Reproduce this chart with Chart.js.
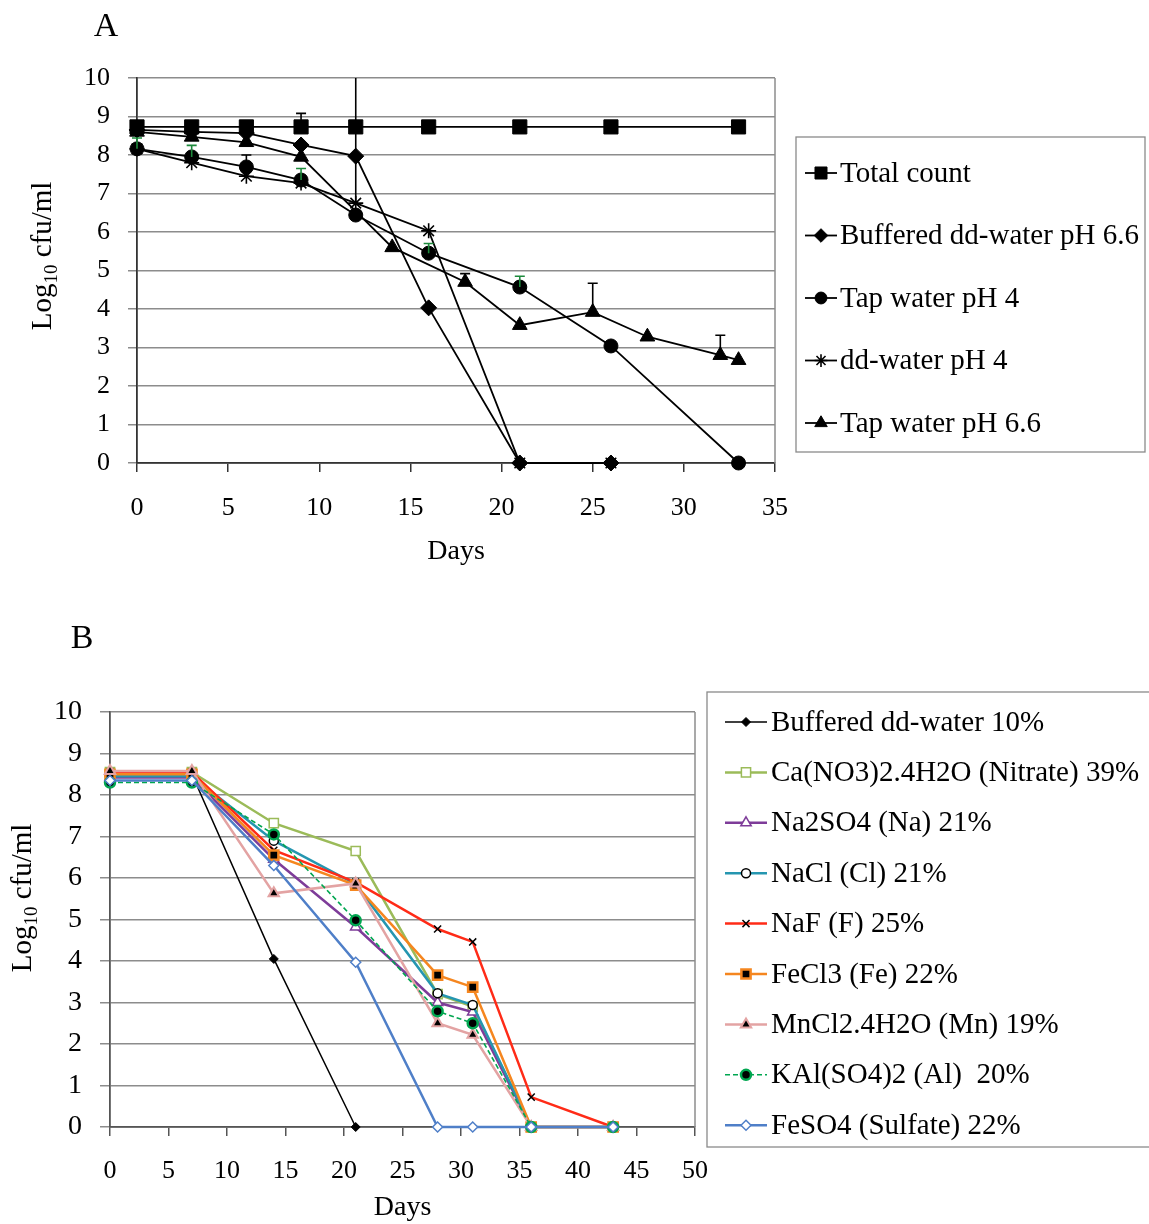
<!DOCTYPE html>
<html><head><meta charset="utf-8">
<script src="https://cdn.jsdelivr.net/npm/chart.js@4/dist/chart.umd.min.js"></script>
<style>
html,body{margin:0;padding:0;background:#fff;}
#wrap{position:relative;width:1149px;height:1224px;overflow:hidden;}
#ca{position:absolute;left:0;top:0;}
#cb{position:absolute;left:0;top:590px;}
</style></head><body>
<div id="wrap"><canvas id="ca" width="1149" height="590"></canvas><canvas id="cb" width="1149" height="634"></canvas></div>
<script>
const FONT = '"Liberation Serif","Times New Roman",serif';

// ---------- Panel A data ----------
const aTicksX = [0, 5, 10, 15, 20, 25, 30, 35];
const aTotalLabel = 'Total count';
const aTotalDays = [0, 3, 6, 9, 12, 16, 21, 26, 33];
const aTotalVals = [8.73, 8.73, 8.73, 8.73, 8.73, 8.73, 8.73, 8.73, 8.73];
const aTotalErr  = [null, null, null, 0.35, null, null, null, null, null];

const aBufLabel = 'Buffered dd-water pH 6.6';
const aBufDays = [0, 3, 6, 9, 12, 16, 21, 26];
const aBufVals = [8.65, 8.6, 8.57, 8.26, 7.97, 4.03, 0, 0];

const aTap4Label = 'Tap water pH 4';
const aTap4Days = [0, 3, 6, 9, 12, 16, 21, 26, 33];
const aTap4Vals = [8.16, 7.95, 7.69, 7.35, 6.44, 5.45, 4.57, 3.04, 0];
const aTap4Err  = [0.28, 0.3, null, 0.3, null, 0.25, 0.28, null, null];

const aDd4Label = 'dd-water pH 4';
const aDd4Days = [0, 3, 6, 9, 12, 16, 21, 26];
const aDd4Vals = [8.16, 7.8, 7.45, 7.27, 6.75, 6.03, 0, 0];
const aDd4Err  = [null, null, 0.55, null, 3.5, null, null, null];

const aTap66Label = 'Tap water pH 6.6';
const aTap66Days = [0, 3, 6, 9, 14, 18, 21, 25, 28, 32, 33];
const aTap66Vals = [8.6, 8.47, 8.33, 7.95, 5.6, 4.7, 3.58, 3.92, 3.28, 2.8, 2.67];
const aTap66Err  = [null, null, null, null, null, 0.22, null, 0.75, null, 0.52, null];

// ---------- Panel B data ----------
const bDays = [0, 7, 14, 21, 28, 31, 36, 43];
const bLabels = ['Buffered dd-water 10%', 'Ca(NO3)2.4H2O (Nitrate) 39%', 'Na2SO4 (Na) 21%', 'NaCl (Cl) 21%',
  'NaF (F) 25%', 'FeCl3 (Fe) 22%', 'MnCl2.4H2O (Mn) 19%', 'KAl(SO4)2 (Al)  20%', 'FeSO4 (Sulfate) 22%'];
const bBuffered = [8.5, 8.5, 4.05, 0, null, null, null, null];
const bNitrate  = [8.55, 8.55, 7.32, 6.65, 3.2, 2.9, 0, 0];
const bNa       = [8.42, 8.42, 6.45, 4.82, 3.0, 2.77, 0, 0];
const bCl       = [8.45, 8.45, 6.9, 5.85, 3.22, 2.94, 0, 0];
const bF        = [8.55, 8.55, 6.67, 5.9, 4.77, 4.46, 0.72, 0];
const bFe       = [8.5, 8.5, 6.55, 5.83, 3.66, 3.37, 0, 0];
const bMn       = [8.58, 8.58, 5.63, 5.87, 2.5, 2.22, 0, 0];
const bAl       = [8.3, 8.3, 7.05, 4.98, 2.79, 2.5, 0, 0];
const bSulfate  = [8.35, 8.35, 6.3, 3.97, 0, 0, 0, 0];

function pts(days, vals) {
  const out = [];
  for (let i = 0; i < days.length; i++) if (vals[i] != null) out.push({x: days[i], y: vals[i]});
  return out;
}
function errs(days, vals, e) {
  const out = [];
  for (let i = 0; i < days.length; i++) if (vals[i] != null) out.push(e ? e[i] : null);
  return out;
}

function drawYTitle(ctx, bx, cy, size) {
  ctx.save();
  ctx.translate(bx, cy);
  ctx.rotate(-Math.PI / 2);
  const f1 = size + 'px ' + FONT, f2 = Math.round(size * 0.66) + 'px ' + FONT;
  ctx.font = f1; const w1 = ctx.measureText('Log').width; const w3 = ctx.measureText(' cfu/ml').width;
  ctx.font = f2; const w2 = ctx.measureText('10').width;
  let x = -(w1 + w2 + w3) / 2;
  ctx.fillStyle = '#000'; ctx.textAlign = 'left'; ctx.textBaseline = 'alphabetic';
  ctx.font = f1; ctx.fillText('Log', x, 0); x += w1;
  ctx.font = f2; ctx.fillText('10', x, size * 0.22); x += w2;
  ctx.font = f1; ctx.fillText(' cfu/ml', x, 0);
  ctx.restore();
}

function decor(cfg) {
  return {
    id: 'decor' + cfg.name,
    afterDatasetsDraw(chart) {
      const ctx = chart.ctx, xs = chart.scales.x, ys = chart.scales.y;
      chart.data.datasets.forEach((ds) => {
        if (!ds.errUp) return;
        ds.data.forEach((p, j) => {
          const e = ds.errUp[j]; if (e == null) return;
          const px = xs.getPixelForValue(p.x);
          const y0 = ys.getPixelForValue(p.y);
          const topV = p.y + e;
          const y1 = ys.getPixelForValue(Math.min(topV, ys.max));
          ctx.save();
          ctx.strokeStyle = ds.errColor || '#000'; ctx.lineWidth = 1.6;
          ctx.beginPath(); ctx.moveTo(px, y0); ctx.lineTo(px, y1);
          if (topV <= ys.max) { ctx.moveTo(px - 5, y1); ctx.lineTo(px + 5, y1); }
          ctx.stroke();
          ctx.restore();
        });
      });
    },
    afterDraw(chart) {
      const ctx = chart.ctx, ca = chart.chartArea;
      ctx.save();
      ctx.strokeStyle = cfg.gridColor; ctx.lineWidth = 1.5;
      ctx.beginPath(); ctx.moveTo(ca.right, ca.top); ctx.lineTo(ca.right, ca.bottom); ctx.stroke();
      ctx.restore();
      const L = cfg.legend;
      ctx.save();
      ctx.strokeStyle = '#8a8a8a'; ctx.lineWidth = 1.3;
      ctx.strokeRect(L.bx, L.by, L.bw, L.bh);
      chart.data.datasets.forEach((ds, i) => {
        const y = L.y0 + i * L.dy;
        ctx.save();
        ctx.strokeStyle = ds.borderColor; ctx.lineWidth = ds.borderWidth;
        ctx.setLineDash(ds.borderDash || []);
        ctx.beginPath(); ctx.moveTo(L.x1, y); ctx.lineTo(L.x2, y); ctx.stroke();
        ctx.setLineDash([]);
        ctx.fillStyle = ds.pointBackgroundColor; ctx.strokeStyle = ds.pointBorderColor;
        ctx.lineWidth = ds.pointBorderWidth;
        Chart.helpers.drawPoint(ctx, {pointStyle: ds.pointStyle, radius: ds.pointRadius * (L.ms || 1), rotation: 0, borderWidth: ds.pointBorderWidth}, (L.x1 + L.x2) / 2, y);
        ctx.restore();
        ctx.fillStyle = '#000'; ctx.font = L.font + 'px ' + FONT;
        ctx.textAlign = 'left'; ctx.textBaseline = 'middle';
        ctx.fillText(ds.label, L.tx, y + 1);
      });
      ctx.restore();
      drawYTitle(ctx, cfg.yt.x, cfg.yt.y, cfg.yt.size);
      ctx.save();
      ctx.fillStyle = '#000'; ctx.font = cfg.letter.size + 'px ' + FONT;
      ctx.textAlign = 'center'; ctx.textBaseline = 'alphabetic';
      ctx.fillText(cfg.letter.text, cfg.letter.x, cfg.letter.y);
      ctx.restore();
    }
  };
}

function axes(o) {
  return {
    x: {
      type: 'linear', min: 0, max: o.xmax,
      afterBuildTicks: (s) => { s.ticks = o.xticks.map(v => ({value: v})); },
      afterFit: (s) => { s.height = o.xh; },
      ticks: {font: {family: FONT, size: o.xTickSize}, color: '#000', padding: o.xpad, maxRotation: 0, autoSkip: false},
      grid: {drawOnChartArea: false, drawTicks: true, tickLength: 9, color: o.axisColor, lineWidth: 1.5},
      border: {display: true, color: o.axisColor, width: 1.8},
      title: {display: true, text: 'Days', font: {family: FONT, size: 28}, color: '#000', padding: {top: 0, bottom: o.xtpad}}
    },
    y: {
      type: 'linear', min: 0, max: 10,
      afterFit: (s) => { s.width = o.yw; },
      ticks: {stepSize: 1, font: {family: FONT, size: o.yTickSize}, color: '#000', padding: 18},
      grid: {color: o.gridColor, lineWidth: 1.5, tickLength: o.ytl, drawTicks: true},
      border: {display: true, color: o.axisColor, width: 1.8}
    }
  };
}

// ---------- Chart A ----------
const A_GRID = '#8c8c8c';
const mkA = (label, days, vals, err, style, radius, extra) => Object.assign({
  label, data: pts(days, vals), errUp: errs(days, vals, err), errColor: '#000',
  borderColor: '#000', borderWidth: 1.8, pointStyle: style, pointRadius: radius,
  pointBackgroundColor: '#000', pointBorderColor: '#000', pointBorderWidth: 1,
  clip: false, tension: 0, fill: false
}, extra || {});

new Chart(document.getElementById('ca'), {
  type: 'line',
  data: {
    datasets: [
      mkA(aTotalLabel, aTotalDays, aTotalVals, aTotalErr, 'rect', 10),
      mkA(aBufLabel, aBufDays, aBufVals, null, 'rectRot', 8),
      mkA(aTap4Label, aTap4Days, aTap4Vals, aTap4Err, 'circle', 7, {errColor: '#1d8a3c'}),
      mkA(aDd4Label, aDd4Days, aDd4Vals, aDd4Err, 'star', 7.5, {pointBorderWidth: 1.6}),
      mkA(aTap66Label, aTap66Days, aTap66Vals, aTap66Err, 'triangle', 8.5)
    ]
  },
  options: {
    responsive: false, animation: false, events: [],
    layout: {padding: {left: 0, top: 78, right: 1149 - 775, bottom: 0}},
    plugins: {legend: {display: false}, tooltip: {enabled: false}},
    scales: axes({xmax: 35, xticks: aTicksX, xh: 127, yw: 137, xTickSize: 26, yTickSize: 26, xpad: 21, xtpad: 22, ytl: 9, axisColor: '#333', gridColor: A_GRID})
  },
  plugins: [decor({
    name: 'A', gridColor: A_GRID,
    legend: {bx: 796, by: 137, bw: 349, bh: 315, y0: 173, dy: 62.5, x1: 805, x2: 837, tx: 840, font: 29, ms: 0.85},
    yt: {x: 51, y: 256, size: 29},
    letter: {text: 'A', x: 106, y: 36, size: 34}
  })]
});

// ---------- Chart B ----------
const B_GRID = '#8c8c8c';
const bTicksX = [0, 5, 10, 15, 20, 25, 30, 35, 40, 45, 50];
const mkB = (label, vals, color, width, style, radius, fillC, borderC, bw, extra) => Object.assign({
  label, data: pts(bDays, vals), borderColor: color, borderWidth: width,
  pointStyle: style, pointRadius: radius, pointBackgroundColor: fillC, pointBorderColor: borderC,
  pointBorderWidth: bw, clip: false, tension: 0, fill: false
}, extra || {});
const bSets = [
  mkB(bLabels[0], bBuffered, '#000000', 1.5, 'rectRot', 4.5, '#000', '#000', 1),
  mkB(bLabels[1], bNitrate, '#9BBB59', 2.5, 'rect', 6.5, '#fff', '#9BBB59', 1.5),
  mkB(bLabels[2], bNa, '#7E3C99', 2.5, 'triangle', 6, '#fff', '#7E3C99', 1.5),
  mkB(bLabels[3], bCl, '#2596B0', 2.5, 'circle', 4.5, '#fff', '#000', 1.5),
  mkB(bLabels[4], bF, '#FF2B17', 2.5, 'crossRot', 5, '#000', '#000', 1.5),
  mkB(bLabels[5], bFe, '#F5861F', 2.5, 'rect', 6.5, '#000', '#F5861F', 2.5),
  mkB(bLabels[6], bMn, '#E3A3A3', 2.5, 'triangle', 6, '#000', '#E3A3A3', 2),
  mkB(bLabels[7], bAl, '#00A650', 1.6, 'circle', 5, '#000', '#00A650', 2.5, {borderDash: [5, 3]}),
  mkB(bLabels[8], bSulfate, '#4F7FC8', 2.5, 'rectRot', 5, '#fff', '#4F7FC8', 1.5)
];
bSets.forEach((d, i) => { d.order = bSets.length - i; });

new Chart(document.getElementById('cb'), {
  type: 'line',
  data: {datasets: bSets},
  options: {
    responsive: false, animation: false, events: [],
    layout: {padding: {left: 0, top: 122, right: 1149 - 695, bottom: 0}},
    plugins: {legend: {display: false}, tooltip: {enabled: false}},
    scales: axes({xmax: 50, xticks: bTicksX, xh: 97, yw: 110, xTickSize: 26, yTickSize: 28, xpad: 20, xtpad: 0, ytl: 10, axisColor: '#555', gridColor: B_GRID})
  },
  plugins: [decor({
    name: 'B', gridColor: B_GRID,
    legend: {bx: 707, by: 102, bw: 460, bh: 455, y0: 132, dy: 50.4, x1: 725, x2: 767, tx: 771, font: 29, ms: 1},
    yt: {x: 31, y: 308, size: 29},
    letter: {text: 'B', x: 82, y: 58, size: 34}
  })]
});
</script>
</body></html>
